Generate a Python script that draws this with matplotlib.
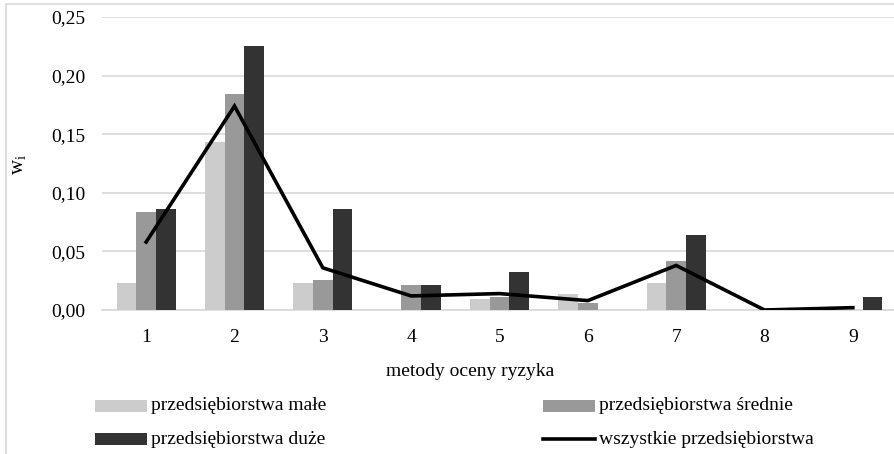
import numpy as np
import matplotlib
matplotlib.use("Agg")
import matplotlib.pyplot as plt
from matplotlib.patches import Rectangle
from matplotlib.lines import Line2D
from matplotlib.ticker import FuncFormatter, MultipleLocator

plt.rcParams['font.family'] = ['Liberation Serif', 'DejaVu Serif']
plt.rcParams['mathtext.fontset'] = 'custom'
plt.rcParams['mathtext.rm'] = 'Liberation Serif'
plt.rcParams['mathtext.it'] = 'Liberation Serif'

methods = ['1', '2', '3', '4', '5', '6', '7', '8', '9']
small = [0.023, 0.143, 0.023, 0.000, 0.009, 0.014, 0.023, 0.000, 0.000]
medium = [0.084, 0.184, 0.026, 0.021, 0.011, 0.006, 0.042, 0.000, 0.000]
large = [0.086, 0.225, 0.086, 0.021, 0.032, 0.000, 0.064, 0.000, 0.011]
overall = [0.058, 0.174, 0.036, 0.012, 0.014, 0.008, 0.038, 0.000, 0.002]

series_labels = ['przedsiębiorstwa małe', 'przedsiębiorstwa średnie',
                 'przedsiębiorstwa duże', 'wszystkie przedsiębiorstwa']
colors = ['#cccccc', '#999999', '#333333', '#000000']

FS = 14
W, H = 894, 454
fig = plt.figure(figsize=(W / 100, H / 100), dpi=100)

# outer chart frame
fig.patches.append(Rectangle((6 / W, -0.05), 1.2, 1 - 4 / H + 0.05,
                             transform=fig.transFigure, fill=False,
                             edgecolor='#d9d9d9', linewidth=1.2, zorder=0))

left, right, bottom, top = 102 / W, 897 / W, 1 - 310 / H, 1 - 17 / H
ax = fig.add_axes([left, bottom, right - left, top - bottom])

x = np.arange(len(methods))
bw = 0.222
ax.bar(x - bw, small, bw, color=colors[0], zorder=3)
ax.bar(x, medium, bw, color=colors[1], zorder=3)
ax.bar(x + bw, large, bw, color=colors[2], zorder=3)
ax.plot(x, overall, color=colors[3], linewidth=2.6, zorder=4,
        solid_joinstyle='miter')

ax.set_xlim(-0.5, len(methods) - 0.5)
ax.set_ylim(0, 0.25)
ax.yaxis.set_major_locator(MultipleLocator(0.05))
ax.yaxis.set_major_formatter(FuncFormatter(lambda v, p: f"{v:.2f}".replace('.', ',')))
ax.set_xticks(x)
ax.set_xticklabels(methods)
ax.grid(axis='y', color='#d9d9d9', linewidth=1.2, zorder=0)
for s in ['top', 'right', 'left']:
    ax.spines[s].set_visible(False)
ax.spines['bottom'].set_color('#d9d9d9')
ax.spines['bottom'].set_linewidth(1.2)
ax.tick_params(axis='both', length=0, labelsize=FS, colors='#000000')
ax.tick_params(axis='x', pad=14)
ax.tick_params(axis='y', pad=12)

fig.text(18 / W, 1 - 165 / H, r'$\mathrm{w}_{\mathrm{i}}$', rotation=90,
         ha='center', va='center', fontsize=FS + 1)
fig.text(470 / W, 1 - 372 / H, 'metody oceny ryzyka', ha='center',
         va='center', fontsize=FS)

# legend, two columns
entries = [(95, 406, 0), (543, 406, 1), (95, 439, 2), (543, 439, 3)]
for px, py, i in entries:
    if i < 3:
        fig.patches.append(Rectangle((px / W, 1 - (py + 6) / H), 52 / W, 12 / H,
                                     transform=fig.transFigure,
                                     facecolor=colors[i], edgecolor='none'))
    else:
        fig.lines.append(Line2D([px / W, (px + 52) / W], [1 - py / H, 1 - py / H],
                                transform=fig.transFigure, color=colors[i],
                                linewidth=2.6))
    fig.text((px + 56) / W, 1 - py / H, series_labels[i], ha='left',
             va='center', fontsize=FS)

fig.savefig('out.png', dpi=100)
